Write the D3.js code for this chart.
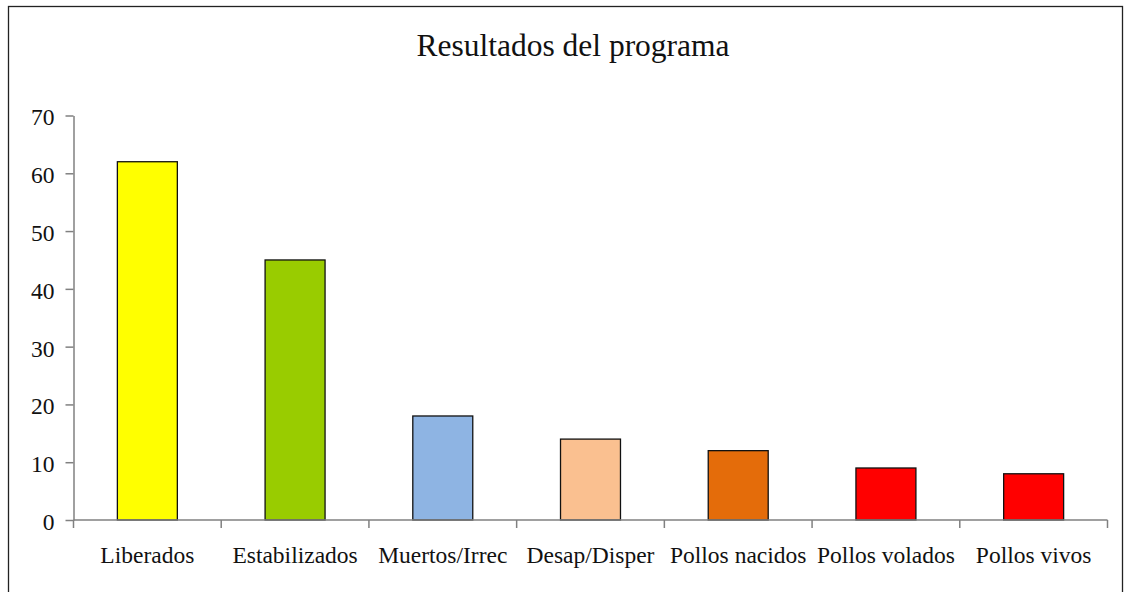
<!DOCTYPE html>
<html><head><meta charset="utf-8">
<script src="https://cdn.jsdelivr.net/npm/d3@7"></script>
<style>html,body{margin:0;padding:0;background:#fff;}svg{display:block;}</style>
</head><body>
<svg id="c" width="1125" height="592"></svg>
<script>
const categories = ["Liberados","Estabilizados","Muertos/Irrec","Desap/Disper","Pollos nacidos","Pollos volados","Pollos vivos"];
const values = [62, 45, 18, 14, 12, 9, 8];
const colors = ["#FFFF00","#99CC00","#8EB4E3","#FAC090","#E46C0A","#FF0000","#FF0000"];
const yTicks = [0,10,20,30,40,50,60,70];
const title = "Resultados del programa";

const svg = d3.select("#c");
const font = "'Liberation Serif', 'Times New Roman', serif";
const mLeft = 73.5, mRight = 1107.5, mTop = 115.5, mBottom = 520;

svg.append("rect").attr("x",8.5).attr("y",6.5).attr("width",1114).attr("height",600)
  .attr("fill","#fff").attr("stroke","#222").attr("stroke-width",1.3);

svg.append("text").attr("x",573).attr("y",56).attr("text-anchor","middle")
  .attr("font-family",font).attr("font-size",31.5).attr("fill","#111").text(title);

const x = d3.scaleBand().domain(categories).range([mLeft,mRight]).padding(0);
const y = d3.scaleLinear().domain([0,70]).range([mBottom,mTop]);
const bw = x.bandwidth()*0.406;

svg.append("g").selectAll("rect").data(categories).join("rect")
  .attr("x",d=>x(d)+x.bandwidth()/2-bw/2)
  .attr("y",(d,i)=>y(values[i]))
  .attr("width",bw)
  .attr("height",(d,i)=>mBottom-y(values[i]))
  .attr("fill",(d,i)=>colors[i])
  .attr("stroke","#111").attr("stroke-width",1.3);

// y axis
const ya = svg.append("g").attr("transform",`translate(${mLeft},0)`)
  .call(d3.axisLeft(y).tickValues(yTicks).tickSize(8).tickPadding(11).tickSizeOuter(0));
ya.select(".domain").attr("stroke","#808080").attr("stroke-width",1.5);
ya.selectAll(".tick line").attr("stroke","#808080").attr("stroke-width",1.5);
ya.selectAll(".tick text").attr("font-family",font).attr("font-size",23.5).attr("fill","#111").attr("dy","0.4em");

// x axis with ticks at category boundaries
const xa = svg.append("g").attr("transform",`translate(0,${mBottom})`);
xa.append("line").attr("x1",mLeft).attr("x2",mRight).attr("stroke","#808080").attr("stroke-width",1.5);
const bounds = categories.map(d=>x(d)).concat([x(categories[categories.length-1])+x.bandwidth()]);
xa.selectAll("line.t").data(bounds).join("line").attr("class","t")
  .attr("x1",d=>d).attr("x2",d=>d).attr("y1",0).attr("y2",8)
  .attr("stroke","#808080").attr("stroke-width",1.5);
xa.selectAll("text").data(categories).join("text")
  .attr("x",d=>x(d)+x.bandwidth()/2).attr("y",43).attr("text-anchor","middle")
  .attr("font-family",font).attr("font-size",23.5).attr("fill","#111").text(d=>d);
</script>
</body></html>
